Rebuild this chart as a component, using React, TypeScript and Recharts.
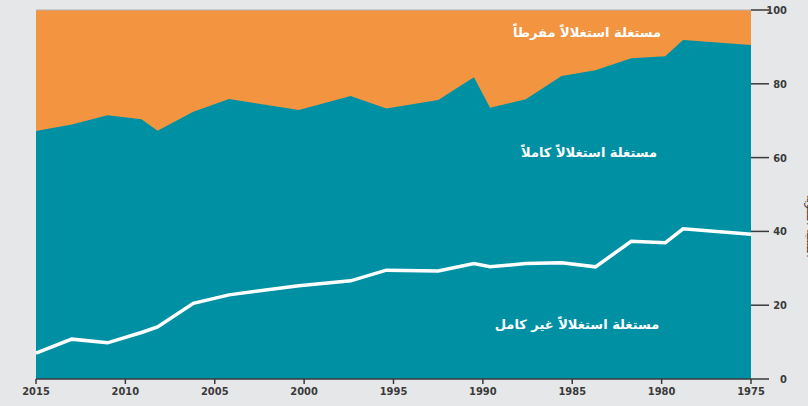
import React from 'react';
import {
  ComposedChart,
  Area,
  Line,
  XAxis,
  YAxis,
  ReferenceArea,
  ReferenceLine,
} from 'recharts';

// years as placed along the (reversed) time axis
const years = [
  2015, 2013, 2011, 2009.1, 2008.2, 2006.2, 2004.2, 2000.3, 1997.4, 1995.4,
  1992.5, 1990.5, 1989.6, 1987.6, 1985.6, 1983.7, 1981.7, 1979.8, 1978.8, 1975,
];
// upper edge of the "fully exploited" band (teal area)
const fullyExploited = [
  67.2, 69.0, 71.5, 70.4, 67.3, 72.4, 75.9, 72.9, 76.7, 73.3,
  75.6, 81.8, 73.5, 75.8, 82.1, 83.7, 86.9, 87.5, 91.9, 90.5,
];
// upper edge of the "not fully exploited" band (white line)
const notFullyExploited = [
  7.0, 10.8, 9.8, 12.6, 14.1, 20.5, 22.8, 25.3, 26.6, 29.5,
  29.3, 31.3, 30.4, 31.3, 31.5, 30.4, 37.3, 36.9, 40.7, 39.2,
];

const xTicks = [2015, 2010, 2005, 2000, 1995, 1990, 1985, 1980, 1975];
const yTicks = [0, 20, 40, 60, 80, 100];

const labelOver = 'مستغلة استغلالاً مفرطاً';
const labelFull = 'مستغلة استغلالاً كاملاً';
const labelUnder = 'مستغلة استغلالاً غير كامل';
const yTitle = 'النسبة المئوية';

const data = years.map((year, i) => ({
  year,
  full: fullyExploited[i],
  under: notFullyExploited[i],
}));

const ORANGE = '#f29440';
const TEAL = '#0090a4';
const AXIS = '#3a3a3a';
const NUM_FONT = '"Liberation Sans Narrow", "DejaVu Sans Condensed", sans-serif';
const AR_FONT = '"DejaVu Sans", sans-serif';

const RightTick = (props: any) => {
  const { y, payload } = props;
  return (
    <text
      x={787}
      y={y}
      dy={4}
      textAnchor="end"
      fontFamily={NUM_FONT}
      fontSize={11}
      fontWeight={600}
      fill={AXIS}
    >
      {payload.value}
    </text>
  );
};

const BottomTick = (props: any) => {
  const { x, y, payload } = props;
  return (
    <text
      x={x}
      y={y + 9}
      textAnchor="middle"
      fontFamily={NUM_FONT}
      fontSize={11}
      fontWeight={600}
      fill={AXIS}
    >
      {payload.value}
    </text>
  );
};

export default function App() {
  return (
    <div
      style={{
        position: 'absolute',
        left: 0,
        top: 0,
        width: 808,
        height: 406,
        background: '#e6e7e9',
        overflow: 'hidden',
      }}
    >
      <ComposedChart
        width={808}
        height={406}
        data={data}
        margin={{ top: 10, right: 17, bottom: 0, left: 14 }}
      >
        <XAxis
          dataKey="year"
          type="number"
          domain={[1975, 2015]}
          reversed
          ticks={xTicks}
          height={27}
          tickSize={5}
          stroke={AXIS}
          strokeWidth={1.5}
          tick={<BottomTick />}
        />
        <YAxis
          yAxisId="left"
          orientation="left"
          domain={[0, 100]}
          ticks={yTicks}
          width={22}
          tickSize={14}
          axisLine={false}
          tick={false}
          tickLine={{ stroke: AXIS, strokeWidth: 1.5 }}
        />
        <YAxis
          orientation="right"
          domain={[0, 100]}
          ticks={yTicks}
          width={40}
          tickSize={18}
          axisLine={false}
          tickLine={{ stroke: AXIS, strokeWidth: 1.5 }}
          tick={<RightTick />}
          label={{
            value: yTitle,
            angle: 90,
            position: 'right',
            offset: 20,
            fill: AXIS,
            fontSize: 11,
            fontFamily: AR_FONT,
          }}
        />
        <ReferenceArea
          x1={1975}
          x2={2015}
          y1={0}
          y2={100}
          fill={ORANGE}
          fillOpacity={1}
          stroke="none"
        />
        <ReferenceLine y={100} stroke="#b0b0b0" strokeWidth={1} />
        <Area
          type="linear"
          dataKey="full"
          stroke="none"
          fill={TEAL}
          fillOpacity={1}
          isAnimationActive={false}
        />
        <Line
          type="linear"
          dataKey="under"
          stroke="#ffffff"
          strokeWidth={3.5}
          dot={false}
          isAnimationActive={false}
        />
        <ReferenceLine
          y={0}
          stroke="none"
          label={() => (
            <g fontFamily={AR_FONT} fontSize={13} fontWeight="bold" fill="#ffffff">
              <text x={587} y={37} textAnchor="middle" direction="rtl">
                {labelOver}
              </text>
              <text x={589} y={157} textAnchor="middle" direction="rtl">
                {labelFull}
              </text>
              <text x={577} y={329} textAnchor="middle" direction="rtl">
                {labelUnder}
              </text>
            </g>
          )}
        />
      </ComposedChart>
    </div>
  );
}
